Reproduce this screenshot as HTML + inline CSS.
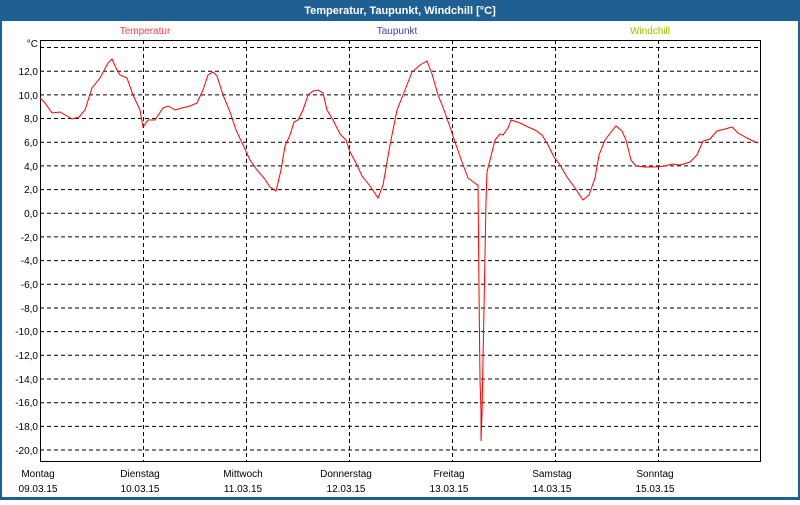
<!DOCTYPE html>
<html><head><meta charset="utf-8"><style>
body{margin:0;width:800px;height:500px;overflow:hidden;font-family:"Liberation Sans",sans-serif;}
</style></head><body>
<svg width="800" height="500" xmlns="http://www.w3.org/2000/svg" font-family="Liberation Sans, sans-serif" font-size="10">
<rect x="0" y="0" width="800" height="500" fill="#1f5f94"/>
<rect x="2" y="21" width="796" height="476" fill="#fff"/>
<text x="400" y="14" fill="#fff" font-weight="bold" font-size="11" text-anchor="middle">Temperatur, Taupunkt, Windchill [°C]</text>
<text x="145" y="34" fill="#ff4040" text-anchor="middle">Temperatur</text>
<text x="397" y="34" fill="#4040c0" text-anchor="middle">Taupunkt</text>
<text x="650" y="34" fill="#a0c000" text-anchor="middle">Windchill</text>
<g stroke="#000" stroke-dasharray="4,3" stroke-width="1">
<path d="M40 47.5H760M40 71.2H760M40 94.9H760M40 118.5H760M40 142.2H760M40 165.9H760M40 189.6H760M40 213.3H760M40 236.9H760M40 260.6H760M40 284.3H760M40 308H760M40 331.6H760M40 355.3H760M40 379H760M40 402.7H760M40 426.4H760M40 450H760"/>
<path d="M143.5 40V461M246.5 40V461M349.5 40V461M452.5 40V461M555.5 40V461M658.5 40V461"/>
</g>
<rect x="40.5" y="40.5" width="720" height="421" fill="none" stroke="#000"/>
<g text-anchor="end" fill="#000">
<text x="38" y="47">°C</text>
<text x="38" y="75">12,0</text><text x="38" y="99">10,0</text><text x="38" y="122">8,0</text><text x="38" y="146">6,0</text><text x="38" y="170">4,0</text><text x="38" y="193">2,0</text><text x="38" y="217">0,0</text><text x="38" y="241">-2,0</text><text x="38" y="264">-4,0</text><text x="38" y="288">-6,0</text><text x="38" y="312">-8,0</text><text x="38" y="335">-10,0</text><text x="38" y="359">-12,0</text><text x="38" y="383">-14,0</text><text x="38" y="406">-16,0</text><text x="38" y="430">-18,0</text><text x="38" y="454">-20,0</text>
</g>
<g fill="#000" text-anchor="middle">
<text x="38" y="477">Montag</text><text x="38" y="492">09.03.15</text>
<text x="140" y="477">Dienstag</text><text x="140" y="492">10.03.15</text>
<text x="243" y="477">Mittwoch</text><text x="243" y="492">11.03.15</text>
<text x="346" y="477">Donnerstag</text><text x="346" y="492">12.03.15</text>
<text x="449" y="477">Freitag</text><text x="449" y="492">13.03.15</text>
<text x="552" y="477">Samstag</text><text x="552" y="492">14.03.15</text>
<text x="655" y="477">Sonntag</text><text x="655" y="492">15.03.15</text>
</g>
<polyline fill="none" stroke="#f00" stroke-width="1" points="40,98 45,103 52,113 60,112 67,116 72,119 79,117 85,110 92,88 100,78 108,63 112,59 117,70 120,75 127,78 133,95 140,110 143,127 148,120 155,120 163,108 168,106 175,110 182,108 190,106 197,103 203,90 208,75 213,72 217,76 223,95 230,112 236,130 243,145 250,160 257,170 264,178 270,187 276,191 281,170 285,146 290,135 294,122 298,120 303,110 308,95 313,91 318,90 323,93 327,110 333,120 340,134 346,140 350,152 356,163 362,176 370,186 378,198 383,185 390,145 397,110 405,90 412,72 420,65 427,61 432,74 438,95 444,110 450,127 456,145 462,162 468,178 476,184 478,185 479,290 480,380 481,412 481,441 482,413 483,360 485,255 486,200 487,172 490,160 493,148 495,140 500,134 503,135 508,128 511,120 520,123 528,127 535,130 542,135 548,145 554,157 560,165 567,177 575,188 583,200 589,195 595,178 599,155 605,140 611,132 616,126 622,131 626,140 631,160 636,166 645,167 655,167 665,166 672,164 680,165 690,162 697,155 703,141 710,139 717,131 725,129 732,127 738,133 747,138 757,143"/>
</svg>
</body></html>
